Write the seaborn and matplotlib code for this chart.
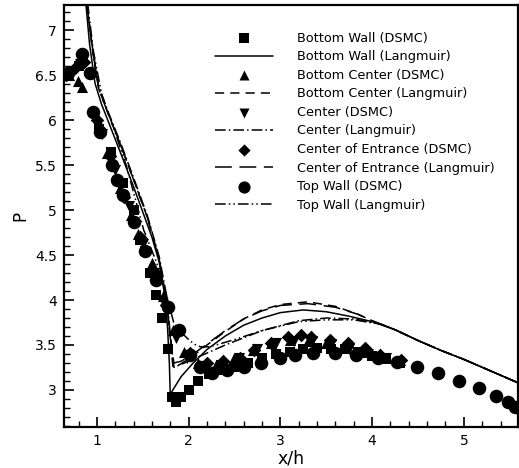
import matplotlib
matplotlib.use("Agg")
import matplotlib.pyplot as plt
import seaborn as sns
import numpy as np
from matplotlib.ticker import MultipleLocator

sns.set_theme(style="white")
plt.rcParams['font.family'] = ['DejaVu Sans']
plt.rcParams['text.color'] = 'black'
plt.rcParams['axes.labelcolor'] = 'black'
plt.rcParams['xtick.color'] = 'black'
plt.rcParams['ytick.color'] = 'black'

# ---------------- data ----------------
# DSMC samples
bw_x = [0.68, 0.80, 1.02, 1.15, 1.28, 1.40, 1.47, 1.53, 1.58, 1.64, 1.71, 1.78, 1.82, 1.86, 1.92, 2.00,
        2.10, 2.22, 2.35, 2.50, 2.65, 2.80, 2.95, 3.10, 3.25, 3.40, 3.55, 3.70, 3.85, 4.00, 4.15, 4.30]
bw_y = [6.50, 6.60, 5.90, 5.65, 5.30, 5.00, 4.67, 4.55, 4.30, 4.06, 3.80, 3.45, 2.92, 2.87, 2.92, 3.00,
        3.10, 3.18, 3.22, 3.26, 3.30, 3.35, 3.40, 3.42, 3.45, 3.47, 3.46, 3.45, 3.42, 3.38, 3.34, 3.30]

bc_x = [0.70, 0.79, 0.84, 1.04, 1.11, 1.25, 1.37, 1.45, 1.60, 1.72, 1.83, 1.95, 2.10, 2.30, 2.50, 2.70,
        2.90, 3.10, 3.30, 3.50, 3.70, 3.90, 4.10, 4.30]
bc_y = [6.50, 6.44, 6.37, 5.92, 5.64, 5.25, 4.95, 4.74, 4.41, 4.05, 3.67, 3.42, 3.30, 3.28, 3.35, 3.44,
        3.52, 3.56, 3.55, 3.52, 3.48, 3.42, 3.38, 3.33]

c_x = [0.72, 0.82, 1.06, 1.20, 1.35, 1.50, 1.62, 1.75, 1.86, 1.98, 2.15, 2.35, 2.55, 2.75, 2.95, 3.15,
       3.35, 3.55, 3.75, 3.95, 4.15]
c_y = [6.55, 6.62, 5.85, 5.45, 5.05, 4.62, 4.30, 3.92, 3.58, 3.36, 3.27, 3.28, 3.36, 3.45, 3.52, 3.55,
       3.55, 3.51, 3.46, 3.40, 3.35]

ce_x = [0.66, 0.76, 0.86, 1.00, 1.14, 1.30, 1.47, 1.62, 1.75, 1.87, 2.02, 2.20, 2.38, 2.56, 2.71, 2.90,
        3.08, 3.22, 3.33, 3.54, 3.74, 3.92, 4.09, 4.31]
ce_y = [6.50, 6.58, 6.65, 6.00, 5.60, 5.15, 4.70, 4.30, 3.95, 3.64, 3.41, 3.30, 3.32, 3.36, 3.44, 3.52,
        3.59, 3.61, 3.59, 3.56, 3.52, 3.47, 3.39, 3.33]

tw_x = [0.68, 0.84, 0.92, 0.96, 1.03, 1.16, 1.22, 1.29, 1.40, 1.52, 1.65, 1.78, 1.89, 2.02, 2.12, 2.26,
        2.42, 2.60, 2.79, 3.00, 3.16, 3.36, 3.60, 3.82, 4.06, 4.27, 4.49, 4.72, 4.95, 5.16, 5.35, 5.48, 5.56]
tw_y = [6.53, 6.74, 6.53, 6.09, 5.87, 5.50, 5.33, 5.17, 4.87, 4.55, 4.22, 3.92, 3.67, 3.39, 3.25, 3.19,
        3.22, 3.26, 3.30, 3.36, 3.39, 3.41, 3.41, 3.39, 3.36, 3.31, 3.26, 3.19, 3.10, 3.02, 2.93, 2.87, 2.81]

# Langmuir curves
bwl_x = [0.88, 0.92, 0.98, 1.05, 1.15, 1.28, 1.40, 1.50, 1.60, 1.68, 1.74, 1.77, 1.79, 1.80, 1.84, 1.92,
         2.05, 2.20, 2.40, 2.60, 2.80, 3.00, 3.25, 3.50, 3.75, 4.00, 4.25, 4.50, 4.75, 5.00, 5.25, 5.59]
bwl_y = [7.30, 6.85, 6.41, 6.18, 5.92, 5.58, 5.26, 4.98, 4.70, 4.42, 4.05, 3.70, 3.30, 2.95, 3.02, 3.15,
         3.30, 3.45, 3.60, 3.72, 3.80, 3.86, 3.89, 3.87, 3.82, 3.76, 3.67, 3.55, 3.44, 3.34, 3.23, 3.08]

bcl_x = [0.89, 0.95, 1.02, 1.12, 1.25, 1.40, 1.55, 1.68, 1.76, 1.80, 1.83, 1.90, 2.05, 2.20, 2.40, 2.60,
         2.80, 3.00, 3.30, 3.60, 3.85, 4.00, 4.25, 4.50, 4.75, 5.00, 5.25, 5.59]
bcl_y = [7.30, 6.80, 6.35, 6.08, 5.75, 5.34, 4.92, 4.45, 4.00, 3.55, 3.25, 3.28, 3.38, 3.50, 3.65, 3.79,
         3.89, 3.95, 3.98, 3.93, 3.84, 3.77, 3.67, 3.55, 3.44, 3.34, 3.23, 3.08]

cl_x = [0.89, 0.95, 1.02, 1.12, 1.25, 1.40, 1.55, 1.68, 1.76, 1.80, 1.84, 2.00, 2.40, 2.80, 3.20, 3.50,
        3.80, 4.10, 4.25, 4.50, 4.75, 5.00, 5.25, 5.59]
cl_y = [7.30, 6.82, 6.37, 6.10, 5.77, 5.36, 4.94, 4.48, 4.05, 3.62, 3.25, 3.32, 3.50, 3.66, 3.77, 3.80,
        3.79, 3.73, 3.67, 3.55, 3.44, 3.34, 3.23, 3.08]

cel_x = [0.89, 0.95, 1.02, 1.12, 1.25, 1.40, 1.55, 1.68, 1.76, 1.80, 1.84, 1.92, 2.05, 2.20, 2.40, 2.60,
         2.80, 3.00, 3.30, 3.60, 3.85, 4.00, 4.25, 4.50, 4.75, 5.00, 5.25, 5.59]
cel_y = [7.30, 6.80, 6.35, 6.08, 5.75, 5.34, 4.92, 4.45, 4.00, 3.58, 3.30, 3.32, 3.40, 3.51, 3.66, 3.79,
         3.88, 3.94, 3.96, 3.92, 3.84, 3.77, 3.67, 3.55, 3.44, 3.34, 3.23, 3.08]

twl_x = [0.90, 0.96, 1.05, 1.18, 1.32, 1.51, 1.65, 1.76, 1.84, 1.92, 1.99, 2.06, 2.13, 2.22, 2.30, 2.50,
         2.80, 3.20, 3.50, 3.80, 4.10, 4.25, 4.50, 4.75, 5.00, 5.25, 5.59]
twl_y = [7.30, 6.78, 6.30, 5.92, 5.50, 4.78, 4.42, 4.05, 3.74, 3.64, 3.57, 3.51, 3.48, 3.48, 3.50, 3.56,
         3.66, 3.76, 3.78, 3.78, 3.73, 3.67, 3.55, 3.44, 3.34, 3.23, 3.08]

labels = ["Bottom Wall (DSMC)", "Bottom Wall (Langmuir)",
          "Bottom Center (DSMC)", "Bottom Center (Langmuir)",
          "Center (DSMC)", "Center (Langmuir)",
          "Center of Entrance (DSMC)", "Center of Entrance (Langmuir)",
          "Top Wall (DSMC)", "Top Wall (Langmuir)"]

y_ticks = [3, 3.5, 4, 4.5, 5, 5.5, 6, 6.5, 7]
y_ticklabels = ["3", "3.5", "4", "4.5", "5", "5.5", "6", "6.5", "7"]

# ---------------- plot ----------------
fig = plt.figure(figsize=(5.19, 4.68), dpi=100)
ax = fig.add_axes([0.123, 0.088, 0.875, 0.901])

lw = 1.1

def add_line(x, y, dashes):
    sns.lineplot(x=x, y=y, ax=ax, color="black", linewidth=lw, sort=False, estimator=None)
    ln = ax.lines[-1]
    if dashes is not None:
        ln.set_dashes(dashes)
    return ln

def add_pts(x, y, marker, s):
    sns.scatterplot(x=x, y=y, ax=ax, color="black", marker=marker, s=s, edgecolor="black", linewidth=0)
    return ax.collections[-1]

h_bw = add_pts(bw_x, bw_y, "s", 52)
h_bwl = add_line(bwl_x, bwl_y, None)
h_bc = add_pts(bc_x, bc_y, "^", 64)
h_bcl = add_line(bcl_x, bcl_y, (6, 4))
h_c = add_pts(c_x, c_y, "v", 64)
h_cl = add_line(cl_x, cl_y, (7, 2, 1, 2))
h_ce = add_pts(ce_x, ce_y, "D", 48)
h_cel = add_line(cel_x, cel_y, (11, 5))
h_tw = add_pts(tw_x, tw_y, "o", 95)
h_twl = add_line(twl_x, twl_y, (7, 2, 1, 2, 1, 2))

handles = [h_bw, h_bwl, h_bc, h_bcl, h_c, h_cl, h_ce, h_cel, h_tw, h_twl]

ax.set_xlim(0.64, 5.59)
ax.set_ylim(2.59, 7.28)
ax.xaxis.set_major_locator(MultipleLocator(1))
ax.xaxis.set_minor_locator(MultipleLocator(0.2))
ax.yaxis.set_minor_locator(MultipleLocator(0.1))
ax.set_yticks(y_ticks)
ax.set_yticklabels(y_ticklabels)
ax.tick_params(which="both", direction="in", bottom=True, left=True, top=False, right=False,
               labelsize=10, color="black", labelcolor="black", pad=5)
ax.tick_params(which="major", length=7, width=1.2)
ax.tick_params(which="minor", length=4, width=1.0)

for sp in ax.spines.values():
    sp.set_color("black")
    sp.set_linewidth(1.6)

ax.set_xlabel("x/h", fontsize=12.5, labelpad=1, color="black")
ax.set_ylabel("P", fontsize=12, labelpad=4, color="black")

leg = ax.legend(handles, labels, loc="upper left", bbox_to_anchor=(0.333, 0.937),
                frameon=False, fontsize=9.3, handlelength=4.5, handletextpad=1.85,
                labelspacing=0.43, borderpad=0, borderaxespad=0, scatterpoints=1,
                markerscale=0.9, labelcolor="black")

fig.savefig("out.png", dpi=100)
